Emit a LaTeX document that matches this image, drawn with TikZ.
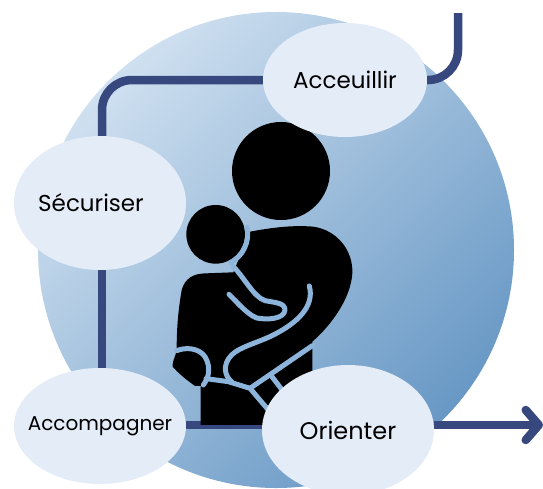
\documentclass[tikz,border=0pt]{standalone}
\usepackage{fontspec}
\setmainfont{Poppins}
\usetikzlibrary{shapes.geometric}
\usetikzlibrary{arrows.meta}
\usetikzlibrary{backgrounds}
\definecolor{bubble}{HTML}{E4ECF8}
\definecolor{flowblue}{HTML}{37487F}
\definecolor{strapblue}{HTML}{8DB4DA}
\definecolor{disclight}{HTML}{CFE0F0}
\definecolor{discdark}{HTML}{6898C5}
\tikzset{
    step bubble/.style={ellipse,fill=bubble,inner sep=0pt,text=black},
    flow/.style={draw=flowblue,line width=8.5pt},
    strap/.style={draw=strapblue,line width=5pt,line cap=round,line join=round}
}

\begin{document}
\begin{tikzpicture}[x=1pt,y=-1pt]
    \useasboundingbox (0,0) rectangle (543,488);

    % Steps
    \node[step bubble,minimum width=164pt,minimum height=114pt,font=\fontsize{23}{26}\selectfont] (acceuillir) at (345,80) {\makebox[0pt]{Acceuillir}};
    \node[step bubble,minimum width=172pt,minimum height=134pt,font=\fontsize{23}{26}\selectfont] (securiser) at (100,203) {\makebox[0pt]{\hspace*{-18pt}Sécuriser}};
    \node[step bubble,minimum width=172pt,minimum height=116pt,font=\fontsize{20}{24}\selectfont] (accompagner) at (100,426) {\makebox[0pt]{Accompagner}};
    \node[step bubble,minimum width=172pt,minimum height=130pt,font=\fontsize{24}{28}\selectfont] (orienter) at (348,430) {\makebox[0pt]{Orienter}};

    \coordinate (entry) at (458,13);
    \coordinate (exit) at (543,425);

    \begin{pgfonlayer}{background}
        % Disc
        \path[left color=disclight,right color=discdark,shading angle=45] (276,250) circle (238);

        % Connectors
        \draw[flow,rounded corners=30pt] (entry) |- (acceuillir.east);
        \draw[flow,rounded corners=30pt] (acceuillir.west) -| ([xshift=2pt]securiser.north);
        \draw[flow] ([xshift=2pt]securiser.south) -- ([xshift=2pt]securiser.south |- accompagner.north);
        \draw[flow] (accompagner.east |- exit) -- (orienter.west |- exit);
        \draw[flow,-{Straight Barb[round,length=13pt,width=30pt]}] (orienter.east |- exit) -- (exit);

        % Mother and child
        \fill (281,171) circle (49);
        \begin{scope}[shift={(150,110)},x=0.3333pt,y=-0.3333pt]
            \fill (300,365) .. controls (370,352) and (430,345) .. (490,350)
                .. controls (560,360) and (610,420) .. (607,490)
                .. controls (603,560) and (550,640) .. (487,695)
                -- (487,800) -- (400,900) -- (350,945) -- (152,945) -- (152,828)
                -- (135,828) .. controls (110,810) and (85,790) .. (68,770)
                .. controls (66,755) and (75,745) .. (80,720)
                .. controls (80,650) and (85,600) .. (95,540)
                .. controls (105,505) and (130,490) .. (170,490)
                -- (250,487) -- cycle;
            \fill (197,373) circle (88);
            \draw[strap] (197,373) ++(-12:96) arc[start angle=-12,end angle=62,radius=96];
            \draw[strap] (250,470) .. controls (285,505) and (310,560) .. (345,572)
                .. controls (375,578) and (405,578) .. (405,600)
                .. controls (403,628) and (350,630) .. (320,624)
                .. controls (290,612) and (260,575) .. (237,553);
            \draw[strap] (478,528) .. controls (495,590) and (440,640) .. (370,675)
                .. controls (320,700) and (270,710) .. (245,735)
                .. controls (215,765) and (225,800) .. (245,815);
            \draw[strap] (80,722) .. controls (105,712) and (145,712) .. (165,740)
                .. controls (185,775) and (175,805) .. (160,825);
            \draw[strap] (168,806) -- (235,815) -- (300,835) -- (355,900);
            \draw[strap] (300,835) -- (487,707);
            \draw[strap] (362,795) -- (395,838);
        \end{scope}
    \end{pgfonlayer}
\end{tikzpicture}
\end{document}
